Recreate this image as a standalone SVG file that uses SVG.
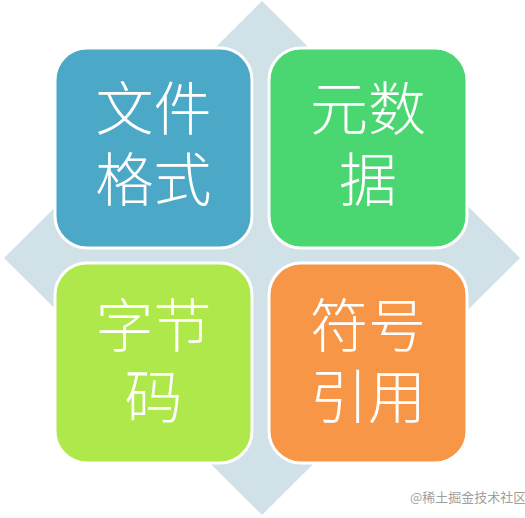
<svg xmlns="http://www.w3.org/2000/svg" width="525" height="518" viewBox="0 0 525 518">
<style>
.box{stroke:#ffffff;stroke-width:3}
.t{font-family:"Noto Sans CJK SC","Noto Sans CJK JP",sans-serif;font-size:58px;font-weight:300;fill:#ffffff;text-anchor:middle}
.wm{font-family:"Noto Sans CJK SC",sans-serif;font-size:13px;fill:#a0a0a0}
</style>
<rect width="525" height="518" fill="#ffffff"/>
<polygon points="262,1 520,258 262,515 4,258" fill="#d0e1e8"/>
<g id="node-file-format">
<rect class="box" x="55" y="48" width="197" height="200" rx="32" fill="#4ba8c6"/>
<text class="t" x="153.5" y="130">文件<tspan x="153.5" dy="71">格式</tspan></text>
</g>
<g id="node-metadata">
<rect class="box" x="269" y="48" width="198" height="200" rx="32" fill="#4ad670"/>
<text class="t" x="368" y="130">元数<tspan x="368" dy="71">据</tspan></text>
</g>
<g id="node-bytecode">
<rect class="box" x="55" y="263" width="197" height="200" rx="32" fill="#aee84a"/>
<text class="t" x="153.5" y="347">字节<tspan x="153.5" dy="71">码</tspan></text>
</g>
<g id="node-symbol-ref">
<rect class="box" x="269" y="263" width="198" height="200" rx="32" fill="#f79646"/>
<text class="t" x="368" y="347">符号<tspan x="368" dy="71">引用</tspan></text>
</g>
<g id="connectors"></g>
<text class="wm" x="410" y="502">@稀土掘金技术社区</text>
</svg>
